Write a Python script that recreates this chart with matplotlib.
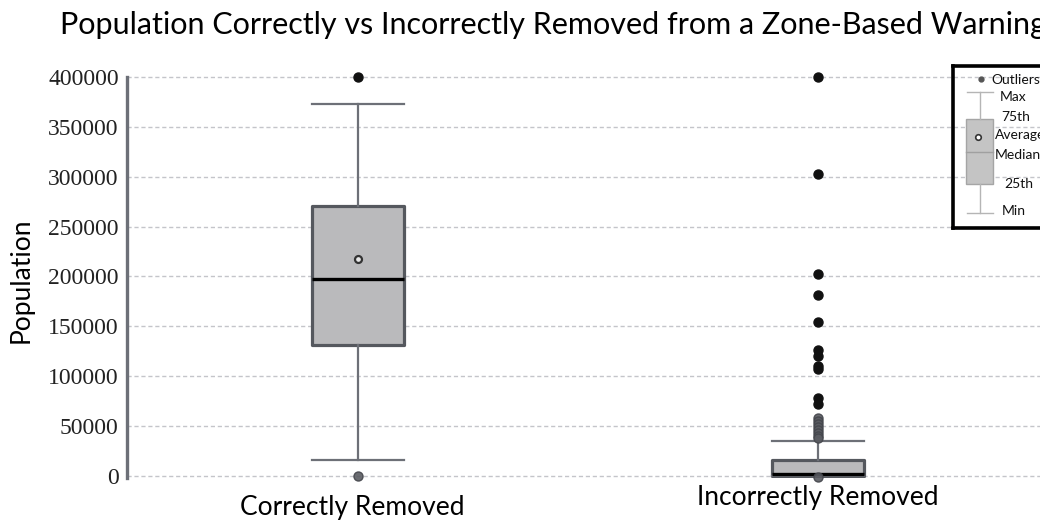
import matplotlib
matplotlib.use('Agg')
import matplotlib.pyplot as plt
import matplotlib.transforms as mtrans
from matplotlib.patches import Rectangle

# ---------------- data ----------------
categories = ['Correctly Removed', 'Incorrectly Removed']
q1 = [131000, 500]
median = [197500, 2000]
q3 = [271000, 16000]
whisker_low = [16000, 0]
whisker_high = [373000, 35000]
mean_correct = [217500]
outliers_dark = [[400000],
                 [400000, 303000, 203000, 181000, 154000, 126000, 120000,
                  110000, 107000, 78000, 72000]]
outliers_gray = [[-500],
                 [58000, 55000, 52000, 49000, 46000, 43000, 40000, 38000, -800]]
yticks = [0, 50000, 100000, 150000, 200000, 250000, 300000, 350000, 400000]
title = 'Population Correctly vs Incorrectly Removed from a Zone-Based Warning'
ylabel = 'Population'
legend_labels = ['Outliers', 'Max', '75th', 'Average', 'Median', '25th', 'Min']

SANS = ['Lato', 'DejaVu Sans']
SERIF = ['Liberation Serif', 'DejaVu Serif']

W, H = 1040, 522
fig = plt.figure(figsize=(W / 100, H / 100), dpi=100)
fig.patch.set_facecolor('white')

def fx(px):
    return px / W

def fy(py):
    return 1 - py / H

ax = fig.add_axes([fx(127), fy(478), fx(1040) - fx(127), fy(75) - fy(478)])
ax.set_ylim(-2005, 402005)
ax.set_xlim(-0.502, 1.483)

positions = [0, 1]
stats = []
for i, name in enumerate(categories):
    stats.append(dict(label=name, med=median[i], q1=q1[i], q3=q3[i],
                      whislo=whisker_low[i], whishi=whisker_high[i], fliers=[]))

box_face = '#bababc'
box_edge = '#55585e'
whisk_col = '#6d7077'
ax.bxp(stats, positions=positions, widths=0.2, patch_artist=True,
       showfliers=False, showmeans=False,
       boxprops=dict(facecolor=box_face, edgecolor=box_edge, linewidth=2.3,
                     joinstyle='round'),
       medianprops=dict(color='black', linewidth=2.4),
       whiskerprops=dict(color=whisk_col, linewidth=1.6),
       capprops=dict(color=whisk_col, linewidth=1.6),
       capwidths=0.2, zorder=3)

for i, pos in enumerate(positions):
    ax.plot([pos] * len(outliers_gray[i]), outliers_gray[i], 'o', ms=6.5,
            color='#5a5c62', mec='#44464c', alpha=0.9, zorder=4, clip_on=False)
    ax.plot([pos] * len(outliers_dark[i]), outliers_dark[i], 'o', ms=6.5,
            color='#111111', mec='#111111', zorder=5, clip_on=False)
ax.plot([positions[0]] * len(mean_correct), mean_correct, 'o', ms=5,
        mfc='#e8e8e8', mec='#333333', mew=1.6, zorder=6)

# axes styling
ax.set_yticks(yticks)
ax.set_yticklabels([str(v) for v in yticks], fontfamily=SERIF, fontsize=17,
                   color='#222222')
ax.tick_params(axis='y', length=0, pad=6)
ax.set_xticks([])
for s in ['top', 'right', 'bottom']:
    ax.spines[s].set_visible(False)
ax.spines['left'].set_color('#6d7078')
ax.spines['left'].set_linewidth(2.4)
ax.spines['left'].set_bounds(-2005, 400000)
ax.yaxis.grid(True, linestyle=(0, (3, 2)), color='#c4c5ca', linewidth=1.0)
ax.set_axisbelow(True)

fig.text(fx(21), fy(280), ylabel, rotation=90, ha='center', va='center',
         fontfamily=SANS, fontsize=19)

# category labels
tr = mtrans.blended_transform_factory(ax.transData, fig.transFigure)
ax.text(positions[0] - 0.013, fy(508), categories[0], transform=tr,
        ha='center', va='center', fontfamily=SANS, fontsize=19)
ax.text(positions[1], fy(497), categories[1], transform=tr,
        ha='center', va='center', fontfamily=SANS, fontsize=19)

# title
fig.text(fx(60), fy(25), title, ha='left', va='center', fontfamily=SANS,
         fontsize=22)

# legend key (inset, transparent)
lg = fig.add_axes([fx(953), fy(228), fx(1060) - fx(953), fy(66) - fy(228)])
lg.set_xlim(953, 1060)
lg.set_ylim(228, 66)
lg.set_xticks([])
lg.set_yticks([])
lg.patch.set_alpha(0)
for s in lg.spines.values():
    s.set_color('black')
    s.set_linewidth(2.6)
key_col = '#b5b5b5'
lg.plot([980, 980], [92, 119], color=key_col, lw=1)
lg.plot([980, 980], [184, 213], color=key_col, lw=1)
lg.plot([967, 993], [92, 92], color=key_col, lw=1)
lg.plot([967, 993], [213, 213], color=key_col, lw=1)
lg.add_patch(Rectangle((966, 119), 27, 65, facecolor='#c4c4c4',
                       edgecolor='#a5a5a5', lw=1))
lg.plot([966, 993], [152, 152], color='#a0a0a0', lw=1)
lg.plot([978], [137], 'o', ms=4, mfc='white', mec='#333333', mew=1.2)
lg.plot([981], [79], 'o', ms=3.5, color='#555555')
lab_pos = [(991, 80), (1000, 97), (1001, 117), (995, 135), (995, 155),
           (1004, 184), (1002, 211)]
for t, (x, y) in zip(legend_labels, lab_pos):
    lg.text(x, y, t, ha='left', va='center', fontfamily=SANS, fontsize=10,
            color='#111111')

fig.savefig('out.png', dpi=100)
